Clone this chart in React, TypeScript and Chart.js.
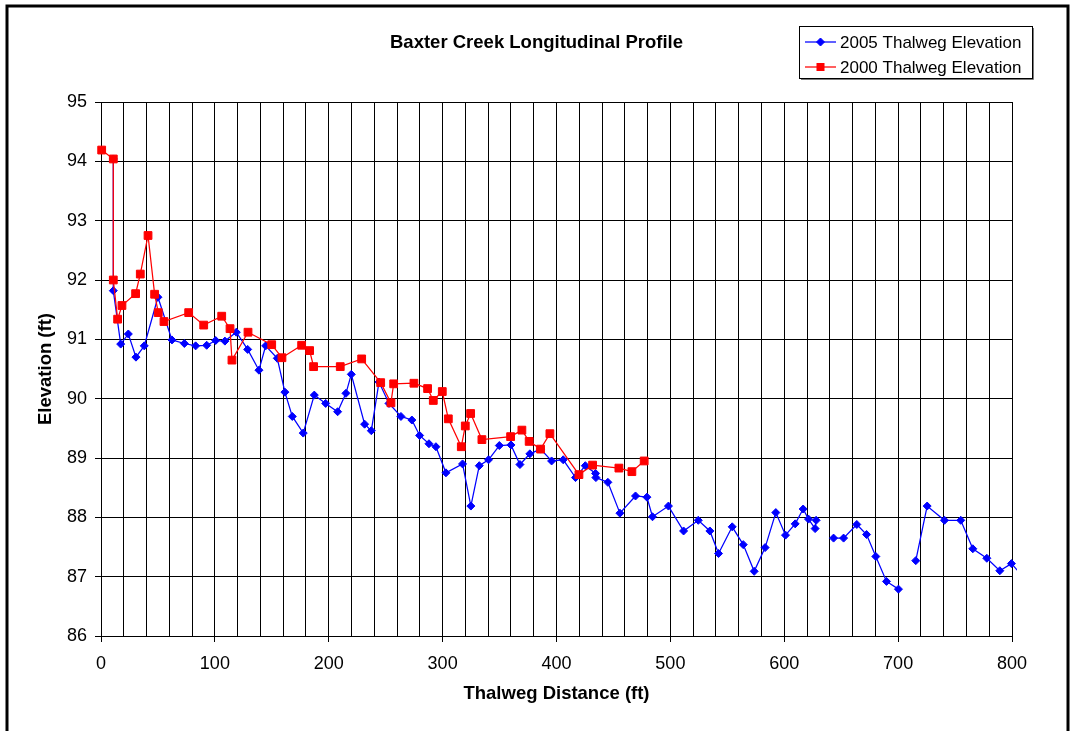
import React, { useEffect, useRef } from "react";
import { Chart, registerables } from "chart.js";

Chart.register(...registerables);

// 2005 Thalweg Elevation (blue diamonds); null = break in the line
const dist2005 = [
  10.8, 10.8, 17.3, 24.0, 30.7, 38.0, 50.0, 62.3, 73.2, 83.1, 92.8, 100.7, 108.8,
  118.8, 128.8, 138.7, 144.6, 154.8, 161.5, 168.0, 177.6, 187.3, 197.3, 207.8,
  215.1, 219.8, 231.5, 237.4, 244.1, 252.9, 263.4, 273.0, 279.8, 288.0, 294.1,
  302.9, 317.5, 324.8, 332.2, 340.3, 349.8, 360.0, 367.9, 376.6, 386.0, 395.7,
  405.9, 416.7, 425.3, 434.3, 434.6, 445.1, 455.7, 469.4, 479.4, 484.3, 498.3,
  511.6, 524.5, 534.7, 542.3, 554.3, 564.0, 573.6, 583.2, 592.6, 601.1, 609.6,
  616.6, 621.3, 627.1, 628.0, 635.0, 643.3, 652.1, 663.7, 672.3, 680.4, 689.8,
  700.3, 708.0, 715.5, 725.5, 740.7, 755.0, 765.6, 777.9, 789.3, 799.5, 812.0,
];
const elev2005 = [
  94.04, 91.82, 90.92, 91.09, 90.70, 90.89, 91.71, 90.99, 90.93, 90.89, 90.90, 90.98, 90.97,
  91.12, 90.83, 90.48, 90.89, 90.68, 90.11, 89.70, 89.42, 90.06, 89.92, 89.78,
  90.09, 90.41, 89.57, 89.46, 90.28, 89.92, 89.70, 89.64, 89.38, 89.24, 89.19,
  88.75, 88.90, 88.19, 88.87, 88.97, 89.21, 89.22, 88.89, 89.07, 89.15, 88.95,
  88.97, 88.67, 88.87, 88.74, 88.67, 88.59, 88.07, 88.36, 88.34, 88.01, 88.19,
  87.77, 87.95, 87.77, 87.39, 87.84, 87.54, 87.09, 87.49, 88.08, 87.70, 87.89,
  88.14, 87.97, 87.81, 87.95, null, 87.65, 87.65, 87.88, 87.71, 87.34, 86.92,
  86.79, null, 87.27, 88.19, 87.95, 87.95, 87.47, 87.31, 87.10, 87.22, 86.95,
];

// 2000 Thalweg Elevation (red squares)
const dist2000 = [
  0.6, 10.8, 10.8, 14.6, 18.4, 30.4, 34.5, 41.3, 47.1, 50.3, 55.3, 77.0, 90.2,
  106.0, 113.3, 115.0, 129.1, 149.9, 158.9, 176.2, 183.2, 186.7, 210.1, 228.9,
  245.6, 254.6, 257.0, 274.8, 286.8, 291.8, 299.7, 305.0, 316.4, 319.9, 324.6,
  334.5, 359.7, 369.6, 376.0, 386.0, 394.2, 419.7, 431.7, 454.8, 466.2, 477.0,
];
const elev2000 = [
  94.19, 94.04, 92.00, 91.34, 91.57, 91.77, 92.10, 92.75, 91.76, 91.45, 91.30, 91.45, 91.24,
  91.39, 91.18, 90.65, 91.12, 90.91, 90.69, 90.90, 90.81, 90.54, 90.54, 90.67,
  90.27, 89.93, 90.25, 90.26, 90.17, 89.97, 90.12, 89.66, 89.19, 89.54, 89.75,
  89.31, 89.36, 89.47, 89.28, 89.15, 89.41, 88.72, 88.88, 88.83, 88.77, 88.95,
];

const seriesLabels = ["2005 Thalweg Elevation", "2000 Thalweg Elevation"];
const titleText = "Baxter Creek Longitudinal Profile";
const xTitle = "Thalweg Distance (ft)";
const yTitle = "Elevation (ft)";
const xMin = 0;
const xMax = 800;
const xGridStep = 20;
const xLabelStep = 100;
const yMin = 86;
const yMax = 95;

const BLUE = "#0000FF";
const RED = "#FF0000";
const FONT = '"Liberation Sans", Arial, Helvetica, sans-serif';

const framePlugin = {
  id: "frame",
  beforeDraw(chart: any) {
    const ctx = chart.ctx;
    ctx.save();
    ctx.fillStyle = "#FFFFFF";
    ctx.fillRect(0, 0, chart.width, chart.height);
    ctx.strokeStyle = "#000000";
    ctx.lineWidth = 3;
    ctx.strokeRect(7, 6, 1061, 740);
    ctx.restore();
  },
};

function drawDiamond(ctx: CanvasRenderingContext2D, x: number, y: number, r: number) {
  ctx.beginPath();
  ctx.moveTo(x - r, y);
  ctx.lineTo(x, y - r);
  ctx.lineTo(x + r, y);
  ctx.lineTo(x, y + r);
  ctx.closePath();
  ctx.fill();
  ctx.stroke();
}

const legendPlugin = {
  id: "customLegend",
  afterDraw(chart: any) {
    const ctx: CanvasRenderingContext2D = chart.ctx;
    ctx.save();
    const bx = 799, by = 26, bw = 233, bh = 52;
    ctx.fillStyle = "#FFFFFF";
    ctx.fillRect(bx, by, bw, bh);
    ctx.strokeStyle = "#7a7a7a";
    ctx.lineWidth = 1;
    ctx.beginPath();
    ctx.moveTo(bx + bw + 1.5, by + 2);
    ctx.lineTo(bx + bw + 1.5, by + bh + 1.5);
    ctx.lineTo(bx + 2, by + bh + 1.5);
    ctx.stroke();
    ctx.strokeStyle = "#000000";
    ctx.strokeRect(bx + 0.5, by + 0.5, bw, bh);

    const items = [
      { label: seriesLabels[0], color: BLUE, y: 42, shape: "diamond" },
      { label: seriesLabels[1], color: RED, y: 67, shape: "square" },
    ];
    for (const it of items) {
      ctx.strokeStyle = it.color;
      ctx.fillStyle = it.color;
      ctx.lineWidth = 1.25;
      ctx.beginPath();
      ctx.moveTo(805, it.y);
      ctx.lineTo(836, it.y);
      ctx.stroke();
      ctx.lineWidth = 1;
      if (it.shape === "diamond") {
        drawDiamond(ctx, 820.5, it.y, 4);
      } else {
        ctx.fillRect(816.5, it.y - 4, 8, 8);
      }
      ctx.fillStyle = "#000000";
      ctx.font = `17px ${FONT}`;
      ctx.textAlign = "left";
      ctx.textBaseline = "middle";
      ctx.fillText(it.label, 840, it.y + 1);
    }
    ctx.restore();
  },
};

export default function App() {
  const canvasRef = useRef<HTMLCanvasElement | null>(null);

  useEffect(() => {
    if (!canvasRef.current) return;
    const data2005 = dist2005.map((x, i) => ({ x, y: elev2005[i] }));
    const data2000 = dist2000.map((x, i) => ({ x, y: elev2000[i] }));
    const clipArea = { left: 10, top: 10, right: 5, bottom: 10 };

    const chart = new Chart(canvasRef.current, {
      type: "scatter",
      data: {
        datasets: [
          {
            label: seriesLabels[1],
            data: data2000 as any,
            showLine: true,
            borderColor: RED,
            backgroundColor: RED,
            borderWidth: 1.25,
            pointStyle: "rect",
            pointRadius: 5.5,
            pointBorderWidth: 1,
            pointBorderColor: RED,
            pointBackgroundColor: RED,
            spanGaps: false,
            clip: clipArea as any,
          },
          {
            label: seriesLabels[0],
            data: data2005 as any,
            showLine: true,
            borderColor: BLUE,
            backgroundColor: BLUE,
            borderWidth: 1.25,
            pointStyle: "rectRot",
            pointRadius: 4,
            pointBorderWidth: 1,
            pointBorderColor: BLUE,
            pointBackgroundColor: BLUE,
            spanGaps: false,
            clip: clipArea as any,
          },
        ],
      },
      options: {
        responsive: false,
        animation: false,
        devicePixelRatio: 1,
        layout: { padding: { left: 0, right: 0, top: 0, bottom: 0 } },
        events: [],
        plugins: {
          legend: { display: false },
          tooltip: { enabled: false },
          title: {
            display: true,
            text: titleText,
            color: "#000000",
            font: { family: FONT, size: 18.5, weight: "bold" },
            padding: { top: 31.9, bottom: 47.9 },
          },
        },
        scales: {
          x: {
            type: "linear",
            min: xMin,
            max: xMax,
            afterFit(scale: any) {
              scale.height = 95;
            },
            ticks: {
              stepSize: xGridStep,
              autoSkip: false,
              maxRotation: 0,
              minRotation: 0,
              padding: 11,
              color: "#000000",
              font: { family: FONT, size: 18 },
              callback: (v: any) => (Number(v) % xLabelStep === 0 ? String(v) : ""),
            },
            grid: {
              color: "#000000",
              lineWidth: 1,
              tickLength: 6,
              tickColor: (c: any) =>
                c.tick && Number(c.tick.value) % xLabelStep === 0 ? "#000000" : "rgba(0,0,0,0)",
            },
            border: { display: true, color: "#000000", width: 1 },
            title: {
              display: true,
              text: xTitle,
              color: "#000000",
              font: { family: FONT, size: 18.5, weight: "bold" },
              padding: { top: 0, bottom: 26 },
            },
          },
          y: {
            type: "linear",
            min: yMin,
            max: yMax,
            afterFit(scale: any) {
              scale.width = 101;
            },
            ticks: {
              stepSize: 1,
              padding: 8,
              color: "#000000",
              font: { family: FONT, size: 18 },
            },
            grid: {
              color: "#000000",
              lineWidth: 1,
              tickLength: 6,
              tickColor: "#000000",
            },
            border: { display: true, color: "#000000", width: 1 },
            title: {
              display: true,
              text: yTitle,
              color: "#000000",
              font: { family: FONT, size: 18.5, weight: "bold" },
              padding: { top: 35, bottom: 0 },
            },
          },
          yRightSpace: {
            type: "linear",
            position: "right",
            min: yMin,
            max: yMax,
            afterFit(scale: any) {
              scale.width = 61;
            },
            ticks: { display: false },
            grid: { display: false, drawTicks: false },
            border: { display: false },
          },
        },
      },
      plugins: [framePlugin, legendPlugin],
    });

    return () => chart.destroy();
  }, []);

  return (
    <div style={{ position: "absolute", left: 0, top: 0, width: 1073, height: 731 }}>
      <canvas ref={canvasRef} width={1073} height={731} style={{ display: "block" }} />
    </div>
  );
}
